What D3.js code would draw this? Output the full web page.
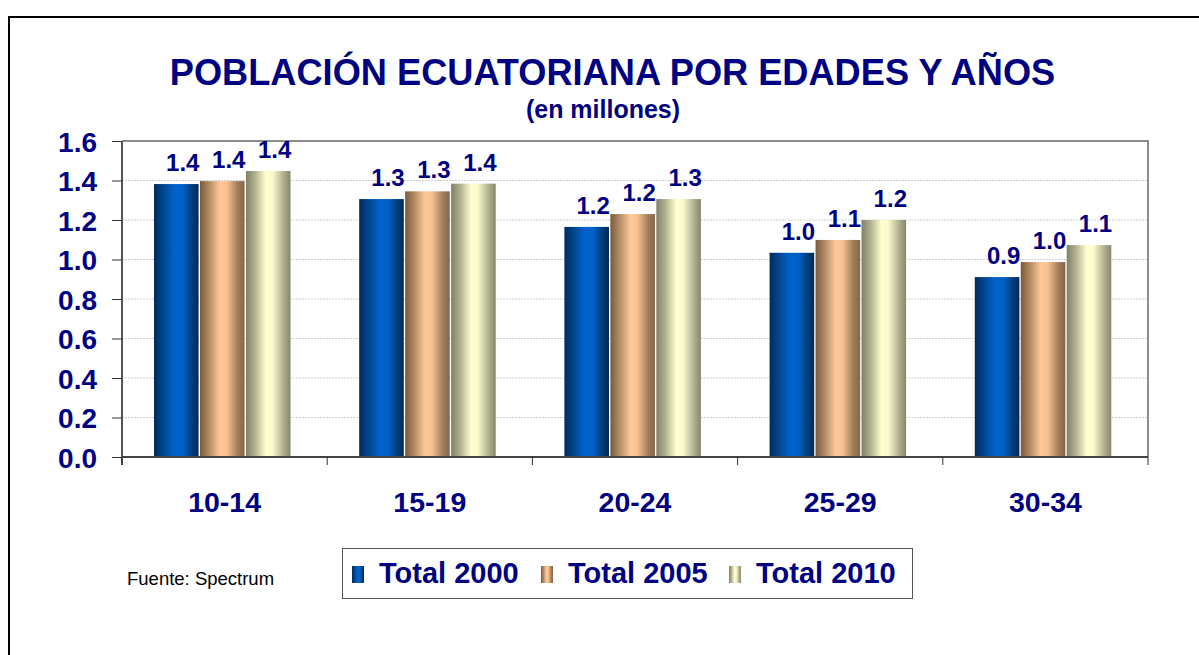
<!DOCTYPE html>
<html><head><meta charset="utf-8">
<script src="https://cdn.jsdelivr.net/npm/d3@7"></script>
<style>html,body{margin:0;padding:0;background:#fff;}svg{display:block;}</style>
</head><body>
<svg id="c" width="1199" height="655"></svg>
<script>
const categories = ["10-14","15-19","20-24","25-29","30-34"];
const seriesNames = ["Total 2000","Total 2005","Total 2010"];
const total2000 = [1.382, 1.306, 1.165, 1.034, 0.911];
const total2005 = [1.397, 1.345, 1.230, 1.099, 0.987];
const total2010 = [1.448, 1.384, 1.306, 1.200, 1.073];
const yTicks = [0.0,0.2,0.4,0.6,0.8,1.0,1.2,1.4,1.6];
const titleText = "POBLACIÓN ECUATORIANA POR EDADES Y AÑOS";
const subtitleText = "(en millones)";
const sourceText = "Fuente: Spectrum";

(function(){
const seriesValues = [total2000, total2005, total2010];
const navy = "#000080";
const font = "'Liberation Sans', Arial, sans-serif";
const svg = d3.select("#c");

// gradients
const defs = svg.append("defs");
const grads = [
  {id:"g0", stops:[[0,"#002a58"],[0.15,"#003f80"],[0.45,"#0062cc"],[0.65,"#0060c8"],[0.85,"#003d7c"],[1,"#002a55"]]},
  {id:"g1", stops:[[0,"#7a5a3c"],[0.2,"#b08a64"],[0.45,"#ffc898"],[0.6,"#f8c290"],[0.85,"#a07c5a"],[1,"#84664a"]]},
  {id:"g2", stops:[[0,"#80806a"],[0.2,"#b0b090"],[0.45,"#ffffd0"],[0.6,"#fafacc"],[0.85,"#aeae8e"],[1,"#86866c"]]}
];
grads.forEach(g=>{
  const lg = defs.append("linearGradient").attr("id",g.id).attr("x1","0").attr("x2","1").attr("y1","0").attr("y2","0");
  g.stops.forEach(s=>lg.append("stop").attr("offset",s[0]).attr("stop-color",s[1]));
});

// outer border
svg.append("rect").attr("x",9).attr("y",17).attr("width",1300).attr("height",800)
  .attr("fill","none").attr("stroke","#000").attr("stroke-width",2);

const pL = 122, pR = 1148, pT = 141, pB = 457;
const x0 = d3.scaleBand().domain(categories).range([pL, pR]).padding(0);
const x1 = d3.scaleBand().domain(seriesNames).range([32, 168.5]).paddingInner(0.03);
const y = d3.scaleLinear().domain([0,1.6]).range([pB, pT]);

// gridlines
svg.append("g").selectAll("line").data(yTicks.slice(1, -1)).join("line")
  .attr("x1",pL).attr("x2",pR).attr("y1",d=>y(d)).attr("y2",d=>y(d))
  .attr("stroke","#d0d0d0").attr("stroke-width",1).attr("stroke-dasharray","2,1");

// plot area top and right border
svg.append("path").attr("d",`M${pL},${y(1.6)}H${pR}V${pB}`)
  .attr("fill","none").attr("stroke","#8c8c8c").attr("stroke-width",2);

// bars
const groups = svg.append("g").selectAll("g").data(categories).join("g")
  .attr("transform",d=>`translate(${x0(d)},0)`);
groups.each(function(cat, ci){
  const g = d3.select(this);
  seriesNames.forEach((s, si)=>{
    const v = seriesValues[si][ci];
    g.append("rect").attr("x",x1(s)).attr("width",x1.bandwidth())
      .attr("y",y(v)).attr("height",y(0)-y(v)).attr("fill",`url(#g${si})`);
    g.append("text").attr("x",x1(s)+x1.bandwidth()/2+6.5).attr("y",y(v)-13)
      .attr("text-anchor","middle").attr("font-family",font).attr("font-weight","bold")
      .attr("font-size",24).attr("fill",navy).text(v.toFixed(1));
  });
});

// y axis
const yAxis = d3.axisLeft(y).tickValues(yTicks).tickFormat(d3.format(".1f")).tickSize(10).tickPadding(15);
const ya = svg.append("g").attr("transform",`translate(${pL},0)`).call(yAxis);
ya.select(".domain").attr("stroke","#555").attr("stroke-width",2).attr("d",`M0,${pT}V${pB+8}`);
ya.selectAll(".tick line").attr("stroke","#333");
ya.selectAll("text").attr("font-family",font).attr("font-weight","bold").attr("font-size",28).attr("fill",navy).attr("dy","0.36em");

// x axis
const xa = svg.append("g").attr("transform",`translate(0,${pB})`)
  .call(d3.axisBottom(x0).tickSize(0));
xa.select(".domain").attr("stroke","#444").attr("stroke-width",2).attr("d",`M${pL},0H${pR}`);
xa.selectAll("text").attr("y",55).attr("dy",0).attr("font-family",font).attr("font-weight","bold").attr("font-size",28.5).attr("fill",navy);
// category separator ticks
svg.append("g").selectAll("line").data(categories.map(c=>x0(c)).concat([pR])).join("line")
  .attr("x1",d=>d).attr("x2",d=>d).attr("y1",pB).attr("y2",pB+8).attr("stroke","#333");

// title
svg.append("text").attr("x",612.5).attr("y",85).attr("text-anchor","middle").attr("font-family",font)
  .attr("font-weight","bold").attr("font-size",36.2).attr("fill",navy).text(titleText);
svg.append("text").attr("x",603).attr("y",118).attr("text-anchor","middle").attr("font-family",font)
  .attr("font-weight","bold").attr("font-size",25).attr("fill",navy).text(subtitleText);

// source
svg.append("text").attr("x",127).attr("y",585).attr("font-family",font).attr("font-size",18.5).attr("fill","#000").text(sourceText);

// legend
svg.append("rect").attr("x",342.5).attr("y",548.5).attr("width",570).attr("height",50)
  .attr("fill","#fff").attr("stroke","#555").attr("stroke-width",1);
const legX = [352, 541, 729];
seriesNames.forEach((s,i)=>{
  svg.append("rect").attr("x",legX[i]).attr("y",566).attr("width",12).attr("height",17).attr("fill",`url(#g${i})`);
  svg.append("text").attr("x",legX[i]+27).attr("y",583).attr("font-family",font).attr("font-weight","bold")
    .attr("font-size",29).attr("fill",navy).text(s);
});
})();
</script>
</body></html>
